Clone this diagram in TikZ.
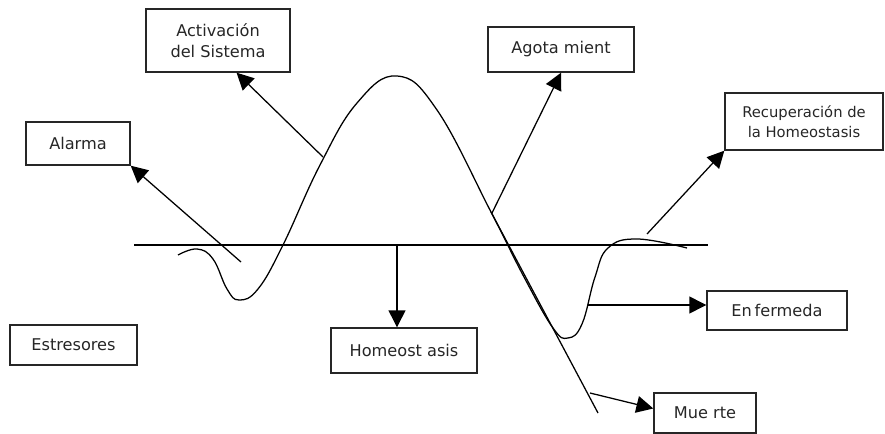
\documentclass[tikz,border=0pt]{standalone}
\usepackage{fontspec}
\setmainfont{DejaVu Sans}
\usetikzlibrary{arrows.meta}

\begin{document}
\begin{tikzpicture}[x=0.25mm, y=-0.25mm]
		\tikzstyle{Box} = [rectangle, draw=black!85, line width=1pt, inner sep=0pt, text=black!85, text centered, align=center, font=\fontsize{11.5}{15}\selectfont]
		\tikzstyle{arrow} = [line width=0.9pt, -{Triangle[length=12pt,width=12pt]}]
		\tikzstyle{curve} = [line width=0.9pt]
		
		\useasboundingbox (0,0) rectangle (885,434);
		
		% boxes
		\node (activacion) [Box, minimum width=36mm, minimum height=15.75mm] at (218,40.5) {Activación\\del Sistema};
		\node (alarma) [Box, minimum width=26mm, minimum height=10.75mm] at (78,143.5) {Alarma};
		\node (agota) [Box, minimum width=36.5mm, minimum height=11.25mm] at (561,49.5) {Agota mient};
		\node (recup) [Box, minimum width=39.5mm, minimum height=14.25mm, font=\fontsize{10.5}{14}\selectfont] at (804,121.5) {Recuperación de\\la Homeostasis};
		\node (estres) [Box, minimum width=31.75mm, minimum height=10mm] at (73.5,345) {Estresores};
		\node (homeo) [Box, minimum width=36.5mm, minimum height=11.25mm] at (404,350.5) {Homeost asis};
		\node (enferm) [Box, minimum width=35mm, minimum height=9.75mm] at (777,310.5) {En\,fermeda};
		\node (muerte) [Box, minimum width=25.5mm, minimum height=10mm] at (705,413) {Mue rte};
		
		% base line
		\coordinate (baseL) at (134,245);
		\coordinate (baseR) at (708,245);
		\draw[curve] (baseL) -- (baseR);
		
		% response curve
		\draw[curve] plot[smooth, tension=0.7] coordinates {(178,255) (197,249) (213,259) (227,289) (239,300) (258,289) (283,245) (320,165) (357,103) (397,76) (437,110) (491,212) (524,277) (553,328) (568,338) (582,324) (595,277) (608,248) (637,239) (687,248)};
		
		% straight fall
		\coordinate (fallTop) at (491,212);
		\coordinate (fallEnd) at (598,413);
		\draw[curve] (fallTop) -- (fallEnd);
		
		% arrows
		\coordinate (alarmaT) at (241,262);
		\coordinate (activT) at (323,157);
		\coordinate (agotaT) at (492,213);
		\coordinate (recupT) at (647,234);
		\coordinate (homeoT) at (397,245);
		\coordinate (enfermT) at (588,305);
		\coordinate (muerteT) at (590,393);
		\draw[arrow] (alarmaT) -- (alarma.south east);
		\draw[arrow] (activT) -- (activacion.-60);
		\draw[arrow] (agotaT) -- (agota.south);
		\draw[arrow] (recupT) -- (recup.south west);
		\draw[arrow] (homeoT) -- (homeoT |- homeo.north);
		\draw[arrow] (enfermT) -- (enfermT -| enferm.west);
		\draw[arrow] (muerteT) -- (muerte.175);
\end{tikzpicture}
\end{document}
